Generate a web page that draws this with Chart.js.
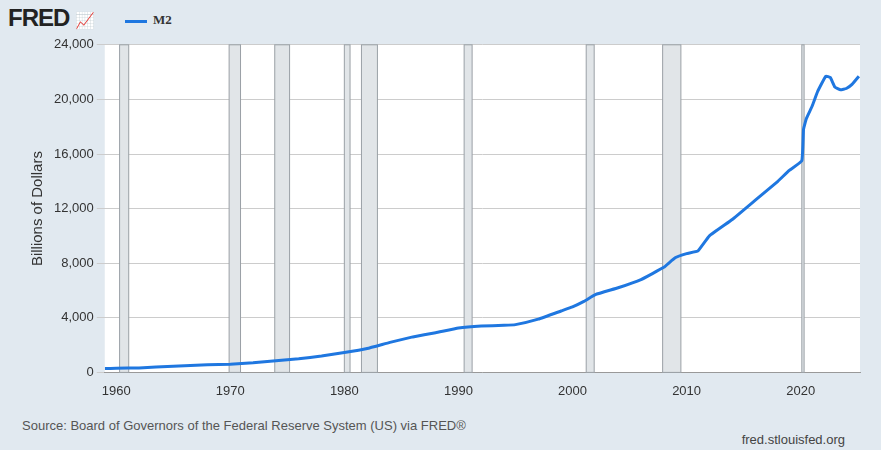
<!DOCTYPE html>
<html><head><meta charset="utf-8">
<script src="https://cdn.jsdelivr.net/npm/chart.js@4"></script>
<style>
body{margin:0;background:#e1e9f0;font-family:"Liberation Sans",Arial,sans-serif;}
#wrap{position:relative;width:881px;height:450px;}
#logo{position:absolute;left:8px;top:4px;font:bold 24px "Liberation Sans";color:#222;letter-spacing:-1px;}
#leg{position:absolute;left:125px;top:12px;font:bold 13px "Liberation Serif";color:#333;}
#leg span{display:inline-block;width:22px;height:3px;background:#1f77e0;vertical-align:middle;margin-right:6px;}
#src{position:absolute;left:22px;top:418px;font-size:13px;color:#555;}
#url{position:absolute;right:36px;top:432px;font-size:13px;color:#444;}
#c{position:absolute;left:0;top:34px;}
</style></head><body><div id="wrap">
<div id="logo">FRED <span style="font-size:16px;color:#5b8fd6">📈</span></div>
<div id="leg"><span></span>M2</div>
<canvas id="c" width="881" height="368"></canvas>
<div id="src">Source: Board of Governors of the Federal Reserve System (US) via FRED®</div>
<div id="url">fred.stlouisfed.org</div>
</div>
<script>
const years = [1959,1960,1962,1965,1968,1970,1972,1974,1976,1978,1980,1982,1984,1986,1988,1990,1992,1994,1995,1997,1999,2000,2001,2002,2004,2006,2008,2009,2010,2011,2012,2014,2016,2018,2019,2020.1,2020.25,2020.5,2021,2021.5,2022.2,2022.6,2023,2023.5,2024,2024.5,2025.1];
const m2 = [287,300,330,450,560,600,700,860,1000,1200,1450,1750,2200,2600,2900,3250,3400,3450,3500,3900,4500,4800,5200,5700,6200,6800,7700,8400,8700,8900,10000,11200,12600,14000,14800,15500,17800,18600,19500,20600,21700,21600,20900,20700,20800,21100,21700];
const recessions = [[1960.3,1961.1],[1969.9,1970.9],[1973.9,1975.2],[1980.0,1980.5],[1981.5,1982.9],[1990.5,1991.2],[2001.2,2001.9],[2007.9,2009.5],[2020.1,2020.3]];
const yTicks = [0,4000,8000,12000,16000,20000,24000];

const bands = {
  id:'bands',
  beforeDatasetsDraw(ch){
    const {ctx, chartArea:a, scales:{x}} = ch;
    ctx.save();
    ctx.fillStyle='#e1e5e8'; ctx.strokeStyle='#9aa0a6'; ctx.lineWidth=1;
    recessions.forEach(([s,e])=>{
      const x1=x.getPixelForValue(s), x2=x.getPixelForValue(e);
      ctx.fillRect(x1,a.top,x2-x1,a.bottom-a.top);
      ctx.strokeRect(x1,a.top,x2-x1,a.bottom-a.top);
    });
    ctx.restore();
  }
};
const bg = {id:'bg',beforeDraw(ch){const {ctx,chartArea:a}=ch;ctx.save();ctx.fillStyle='#fff';ctx.fillRect(a.left,a.top,a.width,a.height);ctx.restore();}};

new Chart(document.getElementById('c'),{
  type:'line',
  data:{datasets:[{data:years.map((y,i)=>({x:y,y:m2[i]})),borderColor:'#1f77e0',borderWidth:3,pointRadius:0,tension:0.1}]},
  options:{
    responsive:false,animation:false,
    layout:{padding:{left:25,right:21,top:10,bottom:0}},
    plugins:{legend:{display:false},tooltip:{enabled:false}},
    scales:{
      x:{type:'linear',min:1959,max:2025.2,grid:{display:false},border:{color:'#999'},
        afterBuildTicks(s){s.ticks=[1960,1970,1980,1990,2000,2010,2020].map(v=>({value:v}));},
        ticks:{callback:v=>String(v),color:'#333',font:{size:13,family:'Liberation Sans'},maxRotation:0}},
      y:{min:0,max:24000,grid:{color:'#ccc'},border:{display:false},
        afterBuildTicks(s){s.ticks=yTicks.map(v=>({value:v}));},
        title:{display:true,text:'Billions of Dollars',color:'#333',font:{size:15,family:'Liberation Sans'}},
        ticks:{callback:v=>v.toLocaleString('en-US'),color:'#333',font:{size:13,family:'Liberation Sans'}}}
    }
  },
  plugins:[bg,bands]
});
</script></body></html>
